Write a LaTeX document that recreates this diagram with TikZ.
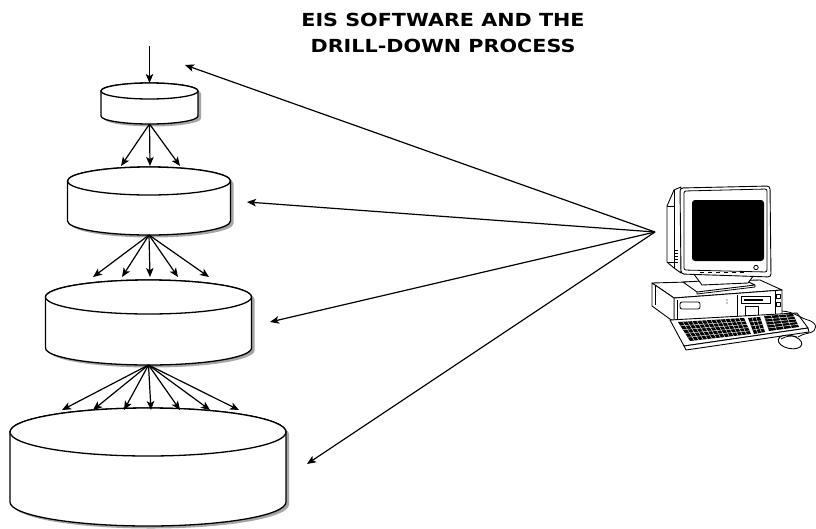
\documentclass[tikz,border=0pt]{standalone}
\usepackage{fontspec}
\newfontfamily\titlefont{DejaVu Sans}[FakeStretch=1.15]
\usetikzlibrary{arrows.meta,calc}

\tikzset{
  flow/.style={line width=1.2pt, -{Stealth[length=9pt,width=7.5pt,inset=2.2pt]}},
  drumline/.style={line width=1.3pt, fill=white, draw=black, line join=round},
  drumshadow/.style={fill=black!35},
  pcfill/.style={fill=white, draw=black, line width=0.9pt, line join=round},
  pcline/.style={draw=black, line width=0.8pt, line join=round},
  keygap/.style={draw=white, line width=0.45pt},
}

% one storage drum: name, centre x, top-face y, bottom-face y, x radius, y radius
\newcommand{\drum}[6]{%
  \fill[drumshadow, shift={(3,2.5)}] ({#2-#5},#3) -- ({#2-#5},#4)
     arc[start angle=180, end angle=0, x radius=#5, y radius=#6]
     -- ({#2+#5},#3)
     arc[start angle=0, end angle=-180, x radius=#5, y radius=#6] -- cycle;
  \draw[drumline] ({#2-#5},#3) -- ({#2-#5},#4)
     arc[start angle=180, end angle=0, x radius=#5, y radius=#6]
     -- ({#2+#5},#3)
     arc[start angle=0, end angle=-180, x radius=#5, y radius=#6] -- cycle;
  \draw[drumline] (#2,#3) ellipse[x radius=#5, y radius=#6];
  \coordinate (#1top) at (#2,{#3-#6});
  \coordinate (#1bot) at (#2,{#4+#6});
}

% a block of keys: corners back-left, back-right, front-right, front-left, rows, columns
\newcommand{\keyblock}[6]{%
  \fill[black] (#1) -- (#2) -- (#3) -- (#4) -- cycle;
  \foreach \i in {1,...,#5} {
    \draw[keygap] ($(#1)!{\i/(#5+1)}!(#4)$) -- ($(#2)!{\i/(#5+1)}!(#3)$);
  }
  \foreach \j in {1,...,#6} {
    \draw[keygap] ($(#1)!{\j/(#6+1)}!(#2)$) -- ($(#4)!{\j/(#6+1)}!(#3)$);
  }
}

\begin{document}
\begin{tikzpicture}[x=1pt, y=-1pt]
\useasboundingbox (0,0) rectangle (816,528);
\fill[white] (0,0) rectangle (816,528);

% title
\node[font=\titlefont\bfseries\fontsize{18}{26}\selectfont, align=center]
  (title) at (443,33) {EIS SOFTWARE AND THE\\DRILL-DOWN PROCESS};

% the four levels of detail
\drum{d1}{149.5}{91}{116}{48.5}{8}
\drum{d2}{149}{181}{221}{81.5}{14}
\drum{d3}{148.5}{297}{348}{103}{17}
\drum{d4}{148}{432}{502}{138}{24}

% entry into the top level
\coordinate (entry) at (149.5,46);
\draw[flow] (entry) -- (d1top);

% drill-down fans
\foreach \x [count=\k] in {121,150,180} {
  \coordinate (fa\k) at (\x,166);
  \draw[flow] (d1bot) -- (fa\k);
}
\foreach \x [count=\k] in {93,122,150,178,209} {
  \coordinate (fb\k) at (\x,277);
  \draw[flow] (d2bot) -- (fb\k);
}
\foreach \x [count=\k] in {62,93,124,151,180,210,239} {
  \coordinate (fc\k) at (\x,410);
  \draw[flow] (d3bot) -- (fc\k);
}

% ---------------- workstation ----------------
% system unit
\draw[pcfill] (652,283) -- (760,280) -- (782,290) -- (674,298) -- cycle;
\draw[pcfill] (674,298) -- (782,290) -- (782,315) -- (674,322) -- cycle;
\draw[pcfill] (652,283) -- (674,298) -- (674,322) -- (652,306) -- cycle;
\draw[pcline] (677,300) -- (677,321);
\draw[pcline] (655,286) -- (655,305);
\draw[pcline, rounded corners=2pt] (680,302) rectangle (700,309);
\draw[pcline] (737,295) -- (737,317);
\draw[pcline] (741,296) rectangle (770,303);
\fill (744,298.5) rectangle (763,301);
\draw[pcline] (745,306) rectangle (758,315);
\draw[pcline] (775,291) -- (775,315);
\draw[pcline] (776.5,294) rectangle (780.5,298);
\draw[pcline] (776.5,302) rectangle (780.5,306);
\fill (727,300) circle (0.7) (727,303) circle (0.7);

% monitor stand
\draw[pcfill] (683,282) -- (742,279) -- (755,285) -- (697,292) -- cycle;
\draw[pcline] (697,292) -- (697,294) -- (755,287) -- (755,285);
\draw[pcfill] (693,273) -- (757,271) -- (748,283) -- (702,285) -- cycle;

% monitor housing
\draw[pcfill] (681,187) -- (674,190) -- (667,206) -- (667,262) -- (674,268) -- (681,273) -- cycle;
\draw[pcline] (674,190) -- (674,268);
\draw[pcline] (667,206) -- (674,206);
\draw[pcline] (667,262) -- (674,262);
\foreach \v in {250,253,...,262} { \draw[pcline, line width=0.6pt] (674,\v) -- (678,\v); }
\draw[pcfill, rounded corners=3pt] (680,188) -- (770,186) -- (771,277) -- (681,274) -- cycle;
\draw[pcline, rounded corners=2pt] (684,191) -- (767,189) -- (767,272) -- (684,270) -- cycle;
\fill[rounded corners=3pt] (692,200) rectangle (764,261);
\draw[pcline] (756,267.5) circle (2.2);
\foreach \u in {700,708,...,740} { \draw[pcline, line width=0.6pt] (\u,272) -- (\u+4,272); }

% keyboard
\draw[pcfill] (670,320) -- (797,313) -- (808,328) -- (684,346) -- cycle;
\draw[pcfill] (684,346) -- (686,350) -- (809,332) -- (808,328) -- cycle;
\keyblock{678,322}{744,318}{751,334}{690,341}{4}{13}
\keyblock{748,318}{760,317}{765,332}{754,334}{3}{2}
\keyblock{764,316}{793,314}{799,327}{769,331}{4}{3}

% mouse and its cord
\draw[pcline] (782,311) .. controls (795,312) and (800,318) .. (808,320)
  .. controls (818,323) and (818,331) .. (809,333)
  .. controls (804,334) and (801,335) .. (798,337);
\draw[pcfill, rotate around={-12:(790,342)}] (790,342) ellipse[x radius=12, y radius=6.5];
\draw[pcline] (781,339) .. controls (786,336) and (792,335) .. (797,337);

% the workstation queries every level
\coordinate (pc) at (655,232);
\coordinate (q1) at (185,65);
\coordinate (q2) at (247,202);
\coordinate (q3) at (270,322);
\coordinate (q4) at (307,464);
\foreach \q in {q1,q2,q3,q4} { \draw[flow] (pc) -- (\q); }
\end{tikzpicture}
\end{document}
